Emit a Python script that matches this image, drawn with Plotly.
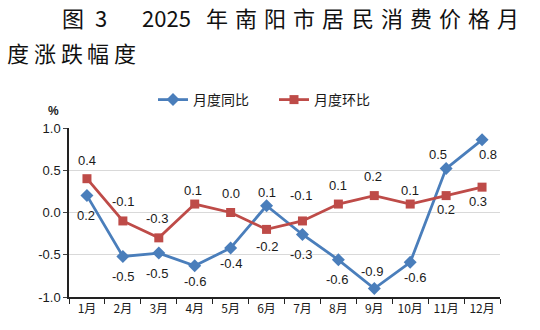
import plotly.graph_objects as go

months = ["1月", "2月", "3月", "4月", "5月", "6月", "7月", "8月", "9月", "10月", "11月", "12月"]
yoy = [0.2, -0.52, -0.48, -0.63, -0.42, 0.08, -0.26, -0.56, -0.9, -0.59, 0.52, 0.86]
mom = [0.4, -0.1, -0.3, 0.1, 0.0, -0.2, -0.1, 0.1, 0.2, 0.1, 0.2, 0.3]
yoy_labels = ["0.2", "-0.5", "-0.5", "-0.6", "-0.4", "0.1", "-0.3", "-0.6", "-0.9", "-0.6", "0.5", "0.8"]
mom_labels = ["0.4", "-0.1", "-0.3", "0.1", "0.0", "-0.2", "-0.1", "0.1", "0.2", "0.1", "0.2", "0.3"]
y_ticks = [-1.0, -0.5, 0.0, 0.5, 1.0]

# label offsets (pixels: dx right, dy up)
yoy_off = [(-1, -20), (0, -20), (-2, -20), (0, -16), (0, -16), (0, 13),
           (-1, -20), (-1, -20), (-2, 17), (5, -15), (-8, 14), (6, -15)]
mom_off = [(0, 18), (0, 19), (-2, 19), (-2, 14), (0, 19), (0, -17),
           (-1, 25), (0, 19), (-1, 19), (0, 14), (0, -14), (-4, -14)]

BLUE = "#4A7EBB"
RED = "#BE4B48"
TXT = "#1a1a1a"
lab_font = dict(family="Liberation Sans, Arial", size=13, color=TXT)

fig = go.Figure()
fig.add_trace(go.Scatter(
    x=months, y=yoy, name="月度同比", mode="lines+markers",
    line=dict(color=BLUE, width=2.8),
    marker=dict(symbol="diamond", size=10, color=BLUE),
))
fig.add_trace(go.Scatter(
    x=months, y=mom, name="月度环比", mode="lines+markers",
    line=dict(color=RED, width=2.8),
    marker=dict(symbol="square", size=9, color=RED),
))

annotations = []
for m, v, t, (dx, dy) in zip(months, yoy, yoy_labels, yoy_off):
    annotations.append(dict(x=m, y=v, text=t, xref="x", yref="y", showarrow=False,
                            xshift=dx, yshift=dy, font=lab_font))
for m, v, t, (dx, dy) in zip(months, mom, mom_labels, mom_off):
    annotations.append(dict(x=m, y=v, text=t, xref="x", yref="y", showarrow=False,
                            xshift=dx, yshift=dy, font=lab_font))

# plot area spans x 69..500, y 128..297 in page pixels
def px(sx):
    return (sx - 69) / 431.0

def py(sy):
    return (297 - sy) / 169.0

title_font = dict(family="Noto Sans CJK SC", size=22, color="#111")
line1 = [("图", 73), ("3", 101), ("2025", 166)]
for i, ch in enumerate("年南阳市居民消费价格月"):
    line1.append((ch, 217 + i * 29.1))
line2 = [(ch, 18 + i * 26.8) for i, ch in enumerate("度涨跌幅度")]
for ch, x in line1:
    annotations.append(dict(text=ch, xref="paper", yref="paper", x=px(x), y=py(17),
                            xanchor="center", yanchor="middle", showarrow=False, font=title_font))
for ch, x in line2:
    annotations.append(dict(text=ch, xref="paper", yref="paper", x=px(x), y=py(52),
                            xanchor="center", yanchor="middle", showarrow=False, font=title_font))

annotations.append(dict(text="<b>%</b>", xref="paper", yref="paper", x=px(53), y=py(111),
                        xanchor="center", yanchor="middle", showarrow=False,
                        font=dict(family="Liberation Sans, Arial", size=12, color=TXT)))

fig.update_layout(
    width=540, height=330,
    margin=dict(l=69, r=40, t=128, b=33),
    paper_bgcolor="white", plot_bgcolor="white",
    showlegend=True,
    legend=dict(orientation="h", x=px(153), y=py(100), xanchor="left", yanchor="middle",
                font=dict(family="Noto Sans CJK SC", size=14, color=TXT),
                itemwidth=30, entrywidth=76, bgcolor="rgba(0,0,0,0)"),
    xaxis=dict(
        type="category", tickson="boundaries", ticks="outside", ticklen=5,
        tickcolor="#222", showline=True, linecolor="#222", linewidth=1.5,
        showgrid=False, range=[-0.5, 11.5],
        tickfont=dict(family="Noto Sans CJK SC", size=12, color=TXT),
    ),
    yaxis=dict(
        range=[-1.0, 1.0], tickvals=y_ticks, ticktext=["%.1f" % v for v in y_ticks],
        showline=True, linecolor="#222", linewidth=1.5, ticks="outside", ticklen=4,
        tickcolor="#444", showgrid=True, gridcolor="#d9d9d9", gridwidth=1,
        zeroline=False,
        tickfont=dict(family="Liberation Sans, Arial", size=13, color=TXT),
    ),
    annotations=annotations,
)

fig.write_html("out.html", config={"displayModeBar": False},
               post_script="document.body.style.margin='0';")
